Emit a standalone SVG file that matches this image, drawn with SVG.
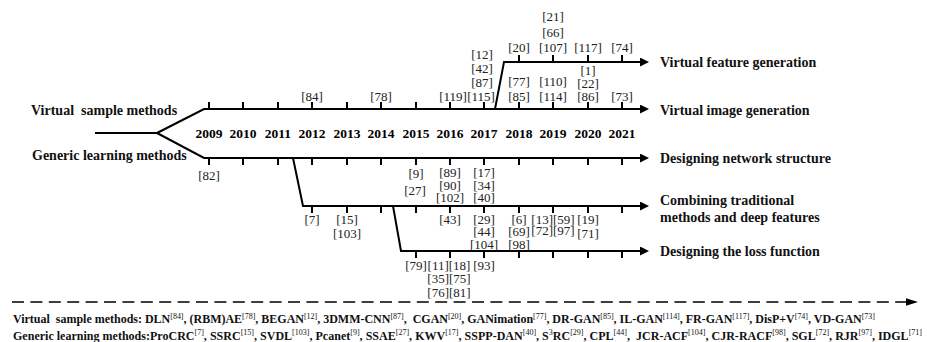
<svg xmlns="http://www.w3.org/2000/svg" width="927" height="342" viewBox="0 0 927 342">
<defs>
<style>
.ln{stroke:#000;stroke-width:2;fill:none;stroke-linejoin:miter}
.tk{stroke:#000;stroke-width:2}
.yr{font-family:"Liberation Serif","Times New Roman",serif;font-weight:bold;font-size:13.5px;fill:#000;text-anchor:middle}
.ref{font-family:"Liberation Serif","Times New Roman",serif;font-size:13px;fill:#222;text-anchor:middle}
.lab{font-family:"Liberation Serif","Times New Roman",serif;font-weight:bold;font-size:14px;fill:#111}
.bt{font-family:"Liberation Serif","Times New Roman",serif;font-weight:bold;font-size:12px;fill:#111}
.sup{font-weight:normal;font-size:8px}
</style>
<marker id="arr" markerUnits="userSpaceOnUse" markerWidth="10" markerHeight="10" refX="0" refY="4.5" orient="auto">
<path d="M0,0 L9,4.5 L0,9 Z" fill="#000"/>
</marker>
</defs>
<rect width="927" height="342" fill="#fff"/>

<g id="connectors">
<polyline class="ln" points="95,133 157,133"/>
<polyline class="ln" points="157,133 204,109 640,109" marker-end="url(#arr)"/>
<polyline class="ln" points="157,133 204,158 640,158" marker-end="url(#arr)"/>
<polyline class="ln" points="495,109 504,62 640,62" marker-end="url(#arr)"/>
<polyline class="ln" points="293,158 303,206 640,206" marker-end="url(#arr)"/>
<polyline class="ln" points="393,206 401,251 640,251" marker-end="url(#arr)"/>
<path class="tk" d="M209,109V102M243,109V102M278,109V102M312,109V102M347,109V102M381,109V102M416,109V102M450,109V102M484,109V102M519,109V102M553,109V102M588,109V102M622,109V102"/>
<path class="tk" d="M519,62V55M553,62V55M588,62V55M622,62V55"/>
<path class="tk" d="M209,158V165M243,158V165M278,158V165M312,158V165M347,158V165M381,158V165M416,158V165M450,158V165M484,158V165M519,158V165M553,158V165M588,158V165M622,158V165"/>
<path class="tk" d="M312,206V213M347,206V213M381,206V213M416,206V213M450,206V213M484,206V213M519,206V213M553,206V213M588,206V213M622,206V213"/>
<path class="tk" d="M416,251V258M450,251V258M484,251V258M519,251V258M553,251V258M588,251V258M622,251V258"/>
<line x1="12" y1="302" x2="906" y2="302" stroke="#000" stroke-width="1.6" stroke-dasharray="12 6.4"/>
<path d="M906,298.2 L918,302 L906,305.8 Z" fill="#000"/>
</g>

<g id="virtual-sample-methods"><text class="lab" x="31" y="114.5" xml:space="preserve">Virtual  sample methods</text></g>
<g id="generic-learning-methods"><text class="lab" x="32" y="159.5">Generic learning methods</text></g>
<g id="virtual-feature-generation"><text class="lab" x="660" y="67">Virtual feature generation</text></g>
<g id="virtual-image-generation"><text class="lab" x="660" y="114.5">Virtual image generation</text></g>
<g id="designing-network-structure"><text class="lab" x="660" y="163">Designing network structure</text></g>
<g id="combining-traditional"><text class="lab" x="660" y="205">Combining traditional</text><text class="lab" x="660" y="222">methods and deep features</text></g>
<g id="designing-loss-function"><text class="lab" x="660" y="255.5">Designing the loss function</text></g>

<g id="years">
<text class="yr" x="209" y="138">2009</text>
<text class="yr" x="243" y="138">2010</text>
<text class="yr" x="278" y="138">2011</text>
<text class="yr" x="312" y="138">2012</text>
<text class="yr" x="347" y="138">2013</text>
<text class="yr" x="381" y="138">2014</text>
<text class="yr" x="416" y="138">2015</text>
<text class="yr" x="450" y="138">2016</text>
<text class="yr" x="484" y="138">2017</text>
<text class="yr" x="519" y="138">2018</text>
<text class="yr" x="553" y="138">2019</text>
<text class="yr" x="588" y="138">2020</text>
<text class="yr" x="622" y="138">2021</text>
</g>

<g id="refs-feature">
<text class="ref" x="519" y="52">[20]</text>
<text class="ref" x="553" y="21">[21]</text>
<text class="ref" x="553" y="36.5">[66]</text>
<text class="ref" x="553" y="52">[107]</text>
<text class="ref" x="588" y="52">[117]</text>
<text class="ref" x="622" y="52">[74]</text>
</g>

<g id="refs-image">
<text class="ref" x="312" y="101">[84]</text>
<text class="ref" x="381" y="101">[78]</text>
<text class="ref" x="453" y="101">[119]</text>
<text class="ref" x="482" y="59">[12]</text>
<text class="ref" x="482" y="73">[42]</text>
<text class="ref" x="482" y="87">[87]</text>
<text class="ref" x="481" y="101">[115]</text>
<text class="ref" x="519" y="86">[77]</text>
<text class="ref" x="519" y="101">[85]</text>
<text class="ref" x="553" y="86">[110]</text>
<text class="ref" x="553" y="101">[114]</text>
<text class="ref" x="588" y="75">[1]</text>
<text class="ref" x="588" y="88">[22]</text>
<text class="ref" x="588" y="101">[86]</text>
<text class="ref" x="622" y="101">[73]</text>
</g>

<g id="refs-network">
<text class="ref" x="209" y="179.5">[82]</text>
<text class="ref" x="416" y="178">[9]</text>
<text class="ref" x="415" y="194.5">[27]</text>
<text class="ref" x="450" y="177">[89]</text>
<text class="ref" x="450" y="189.5">[90]</text>
<text class="ref" x="450" y="202">[102]</text>
<text class="ref" x="484" y="177">[17]</text>
<text class="ref" x="484" y="189.5">[34]</text>
<text class="ref" x="484" y="202">[40]</text>
</g>

<g id="refs-combining">
<text class="ref" x="312" y="223.5">[7]</text>
<text class="ref" x="347" y="223.5">[15]</text>
<text class="ref" x="347" y="238">[103]</text>
<text class="ref" x="450" y="223.5">[43]</text>
<text class="ref" x="484" y="223.5">[29]</text>
<text class="ref" x="484" y="236">[44]</text>
<text class="ref" x="484" y="248.5">[104]</text>
<text class="ref" x="519" y="223.5">[6]</text>
<text class="ref" x="519" y="236">[69]</text>
<text class="ref" x="519" y="248.5">[98]</text>
<text class="ref" x="553" y="223.5">[13][59]</text>
<text class="ref" x="553" y="235">[72][97]</text>
<text class="ref" x="588" y="223.5">[19]</text>
<text class="ref" x="588" y="238">[71]</text>
</g>

<g id="refs-loss">
<text class="ref" x="416" y="269.5">[79]</text>
<text class="ref" x="449" y="269.5">[11][18]</text>
<text class="ref" x="449" y="283">[35][75]</text>
<text class="ref" x="449" y="296.5">[76][81]</text>
<text class="ref" x="484" y="269.5">[93]</text>
</g>

<g id="legend">
<text class="bt" x="13" y="323" textLength="862" lengthAdjust="spacing" xml:space="preserve">Virtual  sample methods: DLN<tspan class="sup" dy="-4.5">[84]</tspan><tspan dy="4.5">, (RBM)AE</tspan><tspan class="sup" dy="-4.5">[78]</tspan><tspan dy="4.5">, BEGAN</tspan><tspan class="sup" dy="-4.5">[12]</tspan><tspan dy="4.5">, 3DMM-CNN</tspan><tspan class="sup" dy="-4.5">[87]</tspan><tspan dy="4.5">,  CGAN</tspan><tspan class="sup" dy="-4.5">[20]</tspan><tspan dy="4.5">, GANimation</tspan><tspan class="sup" dy="-4.5">[77]</tspan><tspan dy="4.5">, DR-GAN</tspan><tspan class="sup" dy="-4.5">[85]</tspan><tspan dy="4.5">, IL-GAN</tspan><tspan class="sup" dy="-4.5">[114]</tspan><tspan dy="4.5">, FR-GAN</tspan><tspan class="sup" dy="-4.5">[117]</tspan><tspan dy="4.5">, DisP+V</tspan><tspan class="sup" dy="-4.5">[74]</tspan><tspan dy="4.5">, VD-GAN</tspan><tspan class="sup" dy="-4.5">[73]</tspan></text>
<text class="bt" x="13" y="339.5" textLength="909" lengthAdjust="spacing" xml:space="preserve">Generic learning methods:ProCRC<tspan class="sup" dy="-4.5">[7]</tspan><tspan dy="4.5">, SSRC</tspan><tspan class="sup" dy="-4.5">[15]</tspan><tspan dy="4.5">, SVDL</tspan><tspan class="sup" dy="-4.5">[103]</tspan><tspan dy="4.5">, Pcanet</tspan><tspan class="sup" dy="-4.5">[9]</tspan><tspan dy="4.5">, SSAE</tspan><tspan class="sup" dy="-4.5">[27]</tspan><tspan dy="4.5">, KWV</tspan><tspan class="sup" dy="-4.5">[17]</tspan><tspan dy="4.5">, SSPP-DAN</tspan><tspan class="sup" dy="-4.5">[40]</tspan><tspan dy="4.5">, S</tspan><tspan class="sup" dy="-4.5">3</tspan><tspan dy="4.5">RC</tspan><tspan class="sup" dy="-4.5">[29]</tspan><tspan dy="4.5">, CPL</tspan><tspan class="sup" dy="-4.5">[44]</tspan><tspan dy="4.5">,  JCR-ACF</tspan><tspan class="sup" dy="-4.5">[104]</tspan><tspan dy="4.5">, CJR-RACF</tspan><tspan class="sup" dy="-4.5">[98]</tspan><tspan dy="4.5">, SGL</tspan><tspan class="sup" dy="-4.5">[72]</tspan><tspan dy="4.5">, RJR</tspan><tspan class="sup" dy="-4.5">[97]</tspan><tspan dy="4.5">, IDGL</tspan><tspan class="sup" dy="-4.5">[71]</tspan></text>
</g>
</svg>
